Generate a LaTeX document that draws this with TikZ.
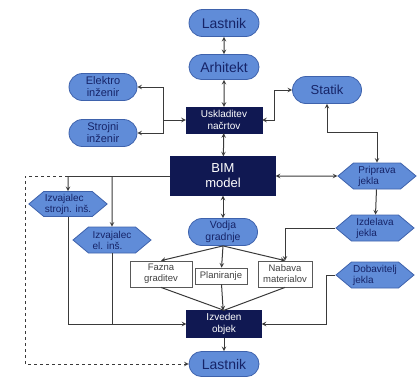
\documentclass[tikz,border=0pt]{standalone}
\usepackage{fontspec}
\setmainfont{Liberation Sans}
\usepackage{tikz}
\usetikzlibrary{shapes.misc,shapes.symbols,arrows}
\definecolor{skyblue}{RGB}{96,140,216}
\definecolor{skyedge}{RGB}{62,98,172}
\definecolor{navy}{RGB}{16,24,82}
\definecolor{inkblue}{RGB}{22,36,104}
\definecolor{wire}{RGB}{58,58,58}
\tikzstyle{party} = [rounded rectangle, minimum width=72pt, minimum height=27pt, inner sep=1pt, draw=skyedge, line width=0.8pt, fill=skyblue, text=inkblue, align=center, font=\fontsize{14}{15}\selectfont]
\tikzstyle{party2} = [party, minimum width=70pt, font=\fontsize{11}{12}\selectfont]
\tikzstyle{core} = [rectangle, minimum width=76pt, minimum height=26pt, inner sep=1pt, draw=navy, fill=navy, text=white, align=center, font=\fontsize{10}{11.5}\selectfont]
\tikzstyle{hexa} = [signal, signal to=west and east, signal pointer angle=80, minimum width=78pt, minimum height=26pt, inner sep=1pt, draw=skyedge, line width=0.8pt, fill=skyblue, text=inkblue, align=left, font=\fontsize{10}{11}\selectfont]
\tikzstyle{task} = [rectangle, minimum height=26pt, inner sep=2pt, draw=gray!70!black, line width=0.8pt, fill=white, text=black!75, align=center, font=\fontsize{9.5}{11}\selectfont]
\tikzstyle{link} = [wire, line width=1pt, ->, >=stealth]
\tikzstyle{link2} = [wire, line width=1pt, <->, >=stealth]
\begin{document}
\begin{tikzpicture}[x=1pt, y=-1pt]
\useasboundingbox (0,0) rectangle (417,378);
\node (own1) [party] at (224,23) {Lastnik};
\node (arh) [party, minimum height=25pt] at (224,67) {Arhitekt};
\node (usk) [core] at (224,120) {Uskladitev\\načrtov};
\node (ele) [party2] at (103,87) {Elektro\\inženir};
\node (str) [party2] at (103,133) {Strojni\\inženir};
\node (stat) [party, minimum width=71pt, font=\fontsize{13}{14}\selectfont] at (327,90) {Statik};
\node (bim) [core, minimum width=105pt, minimum height=39pt, font=\fontsize{13}{15}\selectfont] at (223,176) {BIM\\model};
\node (prip) [hexa] at (377,176) {Priprava\\jekla};
\node (izd) [hexa] at (375,228) {Izdelava\\jekla};
\node (dob) [hexa] at (375,275) {Dobavitelj\\jekla};
\node (ivs) [hexa, minimum height=25pt] at (68,204) {Izvajalec\\strojn. inš.};
\node (ive) [hexa] at (112,240) {Izvajalec\\el. inš.};
\node (vod) [party, minimum width=71pt, font=\fontsize{10.5}{12}\selectfont] at (223,232) {Vodja\\gradnje};
\node (faz) [task, minimum width=62pt] at (161,274) {Fazna\\graditev};
\node (plan) [task, minimum width=52pt, minimum height=16pt] at (221,276) {Planiranje};
\node (nab) [task, minimum width=54pt] at (285,274) {Nabava\\materialov};
\node (izv) [core, minimum width=75pt, minimum height=27pt] at (224,324) {Izveden\\objek};
\node (own2) [party, minimum height=25pt] at (224,364) {Lastnik};
\coordinate (j1) at (163,120);
\coordinate (j2) at (68,176);
\coordinate (j3) at (112,176);
\coordinate (d1) at (25,176);
% main column
\draw[link2] (own1) -- (arh);
\draw[link2] (arh) -- (usk);
\draw[link2] (usk) -- (bim);
\draw[link2] (bim) -- (vod);
\draw[link] (izv) -- (own2);
% engineers and structure
\draw[link] (j1) -- (usk);
\draw[link] (j1) |- (ele);
\draw[link] (j1) |- (str);
\draw[link2] (usk.east) -- ++(12,0) |- (stat);
\draw[link2] (stat.south) -- ++(0,29) -| (prip.north);
\draw[link2] (bim) -- (prip);
\draw[link] (prip) -- (izd);
\draw[link] (izd.west) -| (nab.north);
\draw[link] (dob.west) -- ++(-9,0) |- (izv);
% site works
\draw[link] (vod.south) -- (faz.north);
\draw[link] (vod.south) -- (plan);
\draw[link] (vod.south) -- (nab.north);
\draw[wire, line width=1pt] (faz.south) -- (izv.north);
\draw[wire, line width=1pt] (nab.south) -- (izv.north);
\draw[link] (plan) -- (izv);
% contractors
\draw[wire, line width=1pt] (bim.west) -- (j2);
\draw[link] (j2) -- (ivs);
\draw[link] (j3) -- (ive);
\draw[link] (ivs.south) |- (izv);
\draw[wire, line width=1pt] (ive.south) -- (ive.south |- izv.west);
\draw[link, dashed] (j2) -- (d1) |- (own2);
\end{tikzpicture}
\end{document}
